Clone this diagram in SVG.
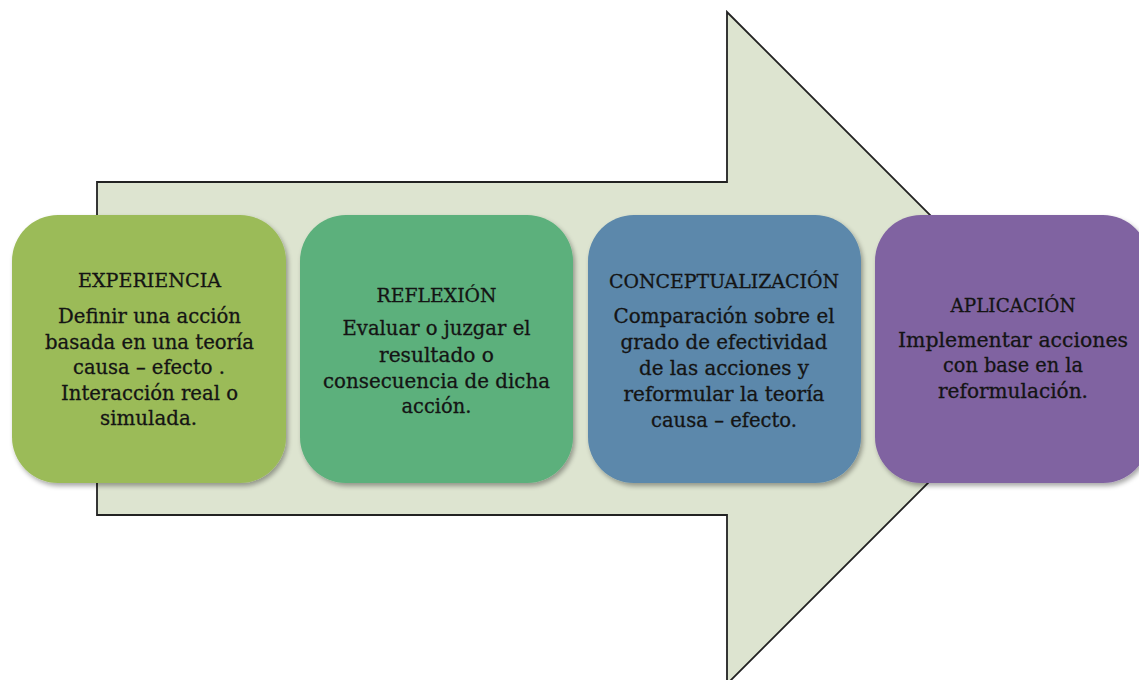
<svg xmlns="http://www.w3.org/2000/svg" width="1139" height="680" viewBox="0 0 1139 680">
  <style>
    .box { stroke: none; filter: url(#shadow); }
    .t { font-family: "DejaVu Serif", "Liberation Serif", serif; fill: #141414; stroke: #141414; stroke-width: 0.3px; text-anchor: middle; }
    .title { font-size: 19px; }
    .body { font-size: 20px; }
  </style>
  <defs>
    <filter id="shadow" x="-10%" y="-10%" width="125%" height="125%">
      <feGaussianBlur in="SourceAlpha" stdDeviation="2.5"/>
      <feOffset dx="1.5" dy="3" result="b"/>
      <feComponentTransfer><feFuncA type="linear" slope="0.35"/></feComponentTransfer>
      <feMerge><feMergeNode/><feMergeNode in="SourceGraphic"/></feMerge>
    </filter>
  </defs>
  <rect width="1139" height="680" fill="#ffffff"/>
  <g id="connectors">
    <polygon id="flow-arrow" points="97,182 727,182 727,12 1063,348 727,684 727,515 97,515" fill="#DDE4D0" stroke="#222222" stroke-width="1.8" stroke-linejoin="miter"/>
  </g>
  <g id="node-experiencia">
    <rect class="box" x="12" y="215" width="274" height="268" rx="46" fill="#9BBB59"/>
    <text class="t title" x="149.5" y="287" textLength="143" lengthAdjust="spacingAndGlyphs">EXPERIENCIA</text>
    <text class="t body" x="149.5" y="323" textLength="183" lengthAdjust="spacingAndGlyphs">Definir una acción</text>
    <text class="t body" x="149.5" y="348.5" textLength="209" lengthAdjust="spacingAndGlyphs">basada en una teoría</text>
    <text class="t body" x="149" y="374" textLength="152" lengthAdjust="spacingAndGlyphs">causa – efecto .</text>
    <text class="t body" x="149.5" y="399.5" textLength="177" lengthAdjust="spacingAndGlyphs">Interacción real o</text>
    <text class="t body" x="148.5" y="425" textLength="97" lengthAdjust="spacingAndGlyphs">simulada.</text>
  </g>
  <g id="node-reflexion">
    <rect class="box" x="300" y="215" width="273" height="268" rx="46" fill="#5BB07B"/>
    <text class="t title" x="436.5" y="302" textLength="120" lengthAdjust="spacingAndGlyphs">REFLEXIÓN</text>
    <text class="t body" x="436.5" y="335" textLength="188" lengthAdjust="spacingAndGlyphs">Evaluar o juzgar el</text>
    <text class="t body" x="436.5" y="362" textLength="115" lengthAdjust="spacingAndGlyphs">resultado o</text>
    <text class="t body" x="436.5" y="388" textLength="227" lengthAdjust="spacingAndGlyphs">consecuencia de dicha</text>
    <text class="t body" x="436.5" y="413" textLength="70" lengthAdjust="spacingAndGlyphs">acción.</text>
  </g>
  <g id="node-conceptualizacion">
    <rect class="box" x="588" y="215" width="273" height="268" rx="46" fill="#5B88AB"/>
    <text class="t title" x="724" y="288" textLength="230" lengthAdjust="spacingAndGlyphs">CONCEPTUALIZACIÓN</text>
    <text class="t body" x="724" y="323" textLength="221" lengthAdjust="spacingAndGlyphs">Comparación sobre el</text>
    <text class="t body" x="724" y="349" textLength="207" lengthAdjust="spacingAndGlyphs">grado de efectividad</text>
    <text class="t body" x="724" y="375" textLength="170" lengthAdjust="spacingAndGlyphs">de las acciones y</text>
    <text class="t body" x="724" y="401" textLength="201" lengthAdjust="spacingAndGlyphs">reformular la teoría</text>
    <text class="t body" x="724" y="427" textLength="146" lengthAdjust="spacingAndGlyphs">causa – efecto.</text>
  </g>
  <g id="node-aplicacion">
    <rect class="box" x="875" y="215" width="274" height="268" rx="46" fill="#8063A1"/>
    <text class="t title" x="1013" y="312" textLength="125" lengthAdjust="spacingAndGlyphs">APLICACIÓN</text>
    <text class="t body" x="1013" y="347" textLength="230" lengthAdjust="spacingAndGlyphs">Implementar acciones</text>
    <text class="t body" x="1013" y="372" textLength="140" lengthAdjust="spacingAndGlyphs">con base en la</text>
    <text class="t body" x="1013" y="398" textLength="150" lengthAdjust="spacingAndGlyphs">reformulación.</text>
  </g>
</svg>
